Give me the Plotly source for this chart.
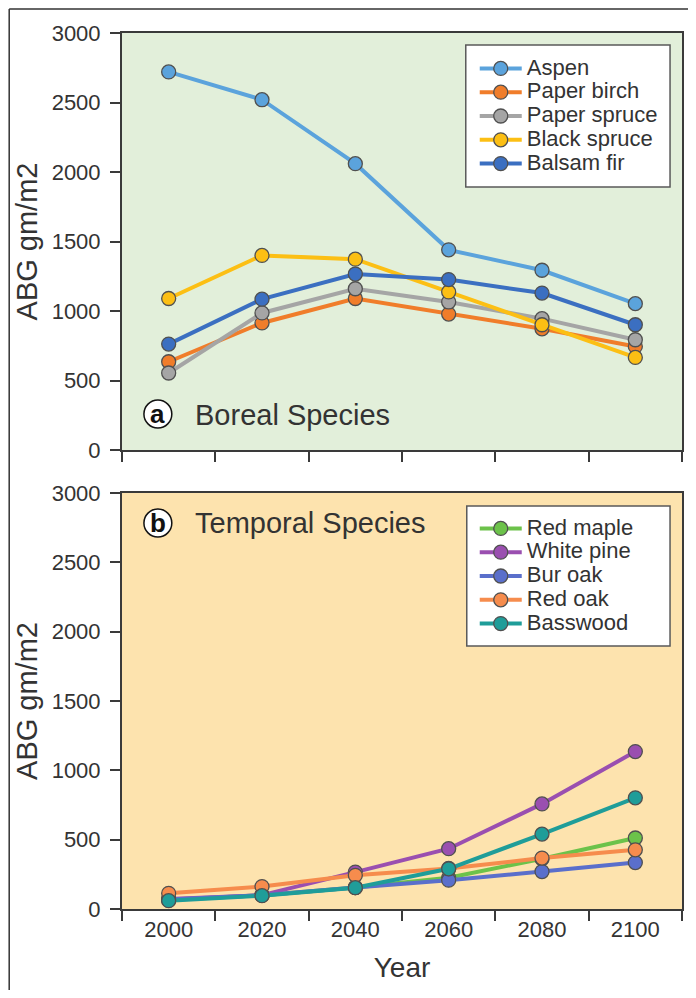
import plotly.graph_objects as go

# ---------------- data ----------------
years = [2000, 2020, 2040, 2060, 2080, 2100]
minor_tick_years = [1990, 2010, 2030, 2050, 2070, 2090, 2110]
y_ticks = [0, 500, 1000, 1500, 2000, 2500, 3000]

boreal_names = ["Aspen", "Paper birch", "Paper spruce", "Black spruce", "Balsam fir"]
aspen = [2720, 2520, 2060, 1440, 1293, 1053]
paper_birch = [635, 914, 1090, 978, 872, 745]
paper_spruce = [554, 986, 1160, 1065, 945, 793]
black_spruce = [1090, 1400, 1373, 1137, 901, 666]
balsam_fir = [762, 1085, 1266, 1226, 1129, 901]
boreal_colors = ["#5ba3dc", "#f07d2a", "#a5a5a5", "#fcbf14", "#3b6fc1"]

temporal_names = ["Red maple", "White pine", "Bur oak", "Red oak", "Basswood"]
red_maple = [65, 100, 155, 225, 362, 512]
white_pine = [72, 100, 266, 435, 758, 1135]
bur_oak = [68, 100, 155, 208, 270, 335]
red_oak = [113, 162, 243, 292, 367, 427]
basswood = [60, 96, 154, 290, 540, 802]
temporal_colors = ["#6cc24a", "#9a4fb0", "#5a6fcb", "#f68c4d", "#1f9d99"]

boreal_values = [aspen, paper_birch, paper_spruce, black_spruce, balsam_fir]
temporal_values = [red_maple, white_pine, bur_oak, red_oak, basswood]

# ---------------- layout geometry ----------------
# the page body has an 8px margin; figure sized so that it fills the window
OFF = 8
W, H = 680, 982
ML, MR, MT, MB = 114, 4, 25, 81
PW, PH = W - ML - MR, H - MT - MB


def px(X):
    """screen x (reference pixels) -> paper x"""
    return (X - OFF - ML) / PW


def py(Y):
    """screen y (reference pixels) -> paper y"""
    return (H - MB - (Y - OFF)) / PH


FONT = "Liberation Sans, Arial, sans-serif"
TXT = "#333333"
AX = "#3a3a3a"
LEG_FONT = 16      # controls legend row spacing
LEG_TEXT = 22      # actual legend text size


def legend_label(name):
    return '<span style="font-size:%dpx">%s</span>' % (LEG_TEXT, name)


fig = go.Figure()

for name, vals, col in zip(boreal_names, boreal_values, boreal_colors):
    fig.add_trace(go.Scatter(
        x=years, y=vals, name=legend_label(name), mode="lines+markers",
        line=dict(color=col, width=4),
        marker=dict(color=col, size=14, line=dict(color="#505050", width=1.3)),
        xaxis="x", yaxis="y", legend="legend"))

for name, vals, col in zip(temporal_names, temporal_values, temporal_colors):
    fig.add_trace(go.Scatter(
        x=years, y=vals, name=legend_label(name), mode="lines+markers",
        line=dict(color=col, width=4),
        marker=dict(color=col, size=14, line=dict(color="#505050", width=1.3)),
        xaxis="x2", yaxis="y2", legend="legend2"))

top_dom = [py(450), 1.0]
bot_dom = [0.0, py(493)]

xcommon = dict(
    range=[1990, 2110], tickvals=years, ticktext=[str(y) for y in years],
    ticks="", showgrid=False, zeroline=False,
    showline=True, linecolor=AX, linewidth=2, mirror=True,
    minor=dict(tickvals=minor_tick_years, ticks="outside", ticklen=10,
               tickwidth=2, tickcolor=AX, showgrid=False),
    tickfont=dict(family=FONT, size=22, color=TXT),
)
ycommon = dict(
    range=[0, 3000], tickvals=y_ticks, ticks="outside", ticklen=10,
    tickwidth=2, tickcolor=AX, showgrid=False, zeroline=False,
    showline=True, linecolor=AX, linewidth=2, mirror=True,
    tickfont=dict(family=FONT, size=22, color=TXT), ticklabelstandoff=5,
    title=dict(text="ABG gm/m2", font=dict(family=FONT, size=29, color=TXT), standoff=5),
)

legend_common = dict(xanchor="left", yanchor="middle", bgcolor="rgba(0,0,0,0)",
                     borderwidth=0, itemwidth=42, tracegroupgap=0,
                     font=dict(family=FONT, size=LEG_FONT, color=TXT))

fig.update_layout(
    width=W, height=H,
    margin=dict(l=ML, r=MR, t=MT, b=MB),
    paper_bgcolor="white", plot_bgcolor="rgba(0,0,0,0)",
    xaxis=dict(domain=[0, 1], anchor="y", showticklabels=False, **xcommon),
    yaxis=dict(domain=top_dom, anchor="x", **ycommon),
    xaxis2=dict(domain=[0, 1], anchor="y2", showticklabels=True,
                title=dict(text="Year", font=dict(family=FONT, size=28, color=TXT), standoff=16),
                **xcommon),
    yaxis2=dict(domain=bot_dom, anchor="x2", **ycommon),
    legend=dict(x=px(476), y=py(116), **legend_common),
    legend2=dict(x=px(476), y=py(576), **legend_common),
    showlegend=True,
)

shapes = [
    # panel backgrounds
    dict(type="rect", xref="x domain", yref="y domain", x0=0, x1=1, y0=0, y1=1,
         fillcolor="#e2efda", line=dict(width=0), layer="below"),
    dict(type="rect", xref="x2 domain", yref="y2 domain", x0=0, x1=1, y0=0, y1=1,
         fillcolor="#fde3ae", line=dict(width=0), layer="below"),
    # legend boxes
    dict(type="rect", xref="paper", yref="paper", x0=px(467), x1=px(672), y0=py(187), y1=py(45),
         fillcolor="white", line=dict(color="#5a5a5a", width=1.5), layer="above"),
    dict(type="rect", xref="paper", yref="paper", x0=px(468), x1=px(672), y0=py(646), y1=py(506),
         fillcolor="white", line=dict(color="#5a5a5a", width=1.5), layer="above"),
    # outer frame (top and left)
    dict(type="line", xref="paper", yref="paper", x0=px(8.8), x1=px(W + OFF + 5), y0=py(9), y1=py(9),
         line=dict(color="#333333", width=1.5)),
    dict(type="line", xref="paper", yref="paper", x0=px(8.8), x1=px(8.8), y0=py(9), y1=py(H + OFF + 5),
         line=dict(color="#333333", width=1.5)),
    # panel label circles
    dict(type="circle", xref="paper", yref="paper", x0=px(144), x1=px(172),
         y0=py(428), y1=py(400), fillcolor="white", line=dict(color="#111111", width=1.5)),
    dict(type="circle", xref="paper", yref="paper", x0=px(144), x1=px(172),
         y0=py(537), y1=py(509), fillcolor="white", line=dict(color="#111111", width=1.5)),
]
fig.update_layout(shapes=shapes)

annotations = [
    dict(text="<b>a</b>", x=px(158), y=py(414), xref="paper", yref="paper", showarrow=False,
         xanchor="center", yanchor="middle", font=dict(family=FONT, size=26, color="#111111")),
    dict(text="<b>b</b>", x=px(158), y=py(523), xref="paper", yref="paper", showarrow=False,
         xanchor="center", yanchor="middle", font=dict(family=FONT, size=26, color="#111111")),
    dict(text="Boreal Species", x=px(193), y=py(415), xref="paper", yref="paper", showarrow=False,
         xanchor="left", yanchor="middle", font=dict(family=FONT, size=29, color=TXT)),
    dict(text="Temporal Species", x=px(193), y=py(523), xref="paper", yref="paper", showarrow=False,
         xanchor="left", yanchor="middle", font=dict(family=FONT, size=29, color=TXT)),
]
fig.update_layout(annotations=annotations)

fig.write_html("out.html")
